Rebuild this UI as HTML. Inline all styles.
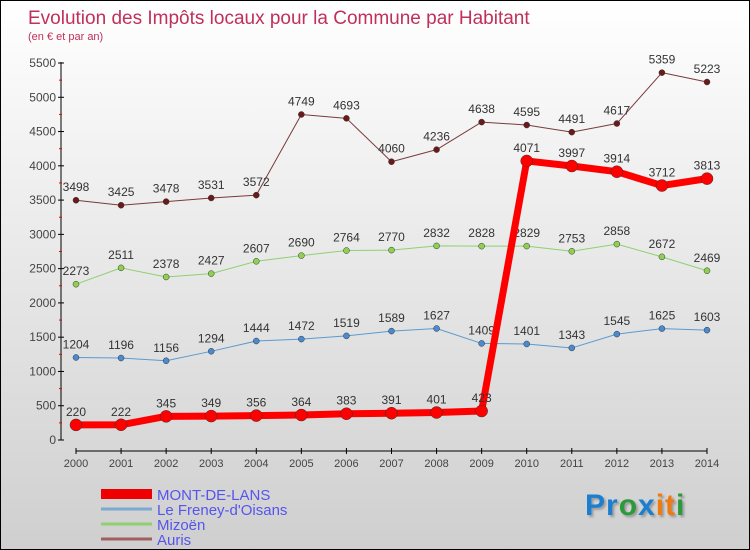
<!DOCTYPE html>
<html><head><meta charset="utf-8"><style>
body{margin:0}
#c{width:750px;height:550px;position:relative;box-sizing:border-box;border:1px solid #000;background:linear-gradient(#fff,#cfcfcf);font-family:"Liberation Sans",sans-serif;overflow:hidden}
</style></head><body>
<div id="c">
<svg id="s" width="750" height="550" style="position:absolute;left:0;top:0">
<text x="27" y="23" font-size="19" fill="#c0305a">Evolution des Impôts locaux pour la Commune par Habitant</text>
<text x="27" y="39" font-size="11" fill="#c0305a">(en € et par an)</text>
</svg>
<div style="position:absolute;left:584px;top:488px;font-size:30px;font-weight:bold;letter-spacing:1px;text-shadow:2px 2px 2px #999"><span style="color:#1a7fd0">Pr</span><span style="color:#2a9a3a">o</span><span style="color:#1a7fd0">x</span><span style="color:#f07a10">it</span><span style="color:#2a9a3a">i</span></div>
</div>
<script>
const years=[2000,2001,2002,2003,2004,2005,2006,2007,2008,2009,2010,2011,2012,2013,2014];
const mont=[220,222,345,349,356,364,383,391,401,423,4071,3997,3914,3712,3813];
const freney=[1204,1196,1156,1294,1444,1472,1519,1589,1627,1409,1401,1343,1545,1625,1603];
const mizoen=[2273,2511,2378,2427,2607,2690,2764,2770,2832,2828,2829,2753,2858,2672,2469];
const auris=[3498,3425,3478,3531,3572,4749,4693,4060,4236,4638,4595,4491,4617,5359,5223];
const yTicks=[0,500,1000,1500,2000,2500,3000,3500,4000,4500,5000,5500];
const names=["MONT-DE-LANS","Le Freney-d'Oisans","Mizoën","Auris"];
const s=document.getElementById('s');const NS='http://www.w3.org/2000/svg';
function X(i){return 75+i*(706-75)/14}
function Y(v){return 439-v*(439-62)/5500}
function el(t,a,p){const e=document.createElementNS(NS,t);for(const k in a)e.setAttribute(k,a[k]);(p||s).appendChild(e);return e}
let g=el('line',{x1:60,y1:61,x2:60,y2:439,stroke:'#000'});


yTicks.forEach(v=>{const y=Y(v);
 el('line',{x1:57,x2:63,y1:y,y2:y,stroke:'#000'});
 if(v<5500)el('line',{x1:58,x2:61,y1:Y(v+250),y2:Y(v+250),stroke:'#e00'});
 const t=el('text',{x:55,y:y+4,'text-anchor':'end','font-size':12,fill:'#444'});t.textContent=v;
 
 
});
g=el('line',{x1:75,y1:450,x2:706,y2:450,stroke:'#000'});


years.forEach((yr,i)=>{el('line',{x1:X(i),x2:X(i),y1:447,y2:453,stroke:'#000'});
 const t=el('text',{x:X(i),y:466,'text-anchor':'middle','font-size':11,fill:'#444'});t.textContent=yr;
 
 
});
function series(d,col,dot,w,r,name){
 const p=el('polyline',{points:d.map((v,i)=>X(i)+','+Y(v)).join(' '),fill:'none',stroke:col,'stroke-width':w,'stroke-linejoin':'round'});
 
 
 d.forEach((v,i)=>{const c=el('circle',{cx:X(i),cy:Y(v),r:r,fill:dot,stroke:'#333','stroke-width':0.5});
  
  
  const t=el('text',{x:X(i),y:Y(v)-9,'text-anchor':'middle','font-size':12,fill:'#333'});t.textContent=v;
  
  });
}
series(auris,'#7a3a3a','#6a1a1a',1,3,'auris');
series(mizoen,'#8fd070','#8fd050',1,3,'mizoen');
series(freney,'#5a9ad0','#4a8ad0',1,3,'freney');
series(mont,'#ff0000','#ff0000',7,6,'mont-de-lans');
const lc=['#ee0000','#7aaad0','#90d070','#a06060'],lw=[10,3,3,3];
names.forEach((n,i)=>{const y=493+i*15;
 const l=el('line',{x1:100,x2:151,y1:y,y2:y,stroke:lc[i],'stroke-width':lw[i]});
 
 
 const t=el('text',{x:156,y:y+6,'font-size':15,fill:'#5555ee'});t.textContent=n;
 
 
});
</script>
</body></html>
